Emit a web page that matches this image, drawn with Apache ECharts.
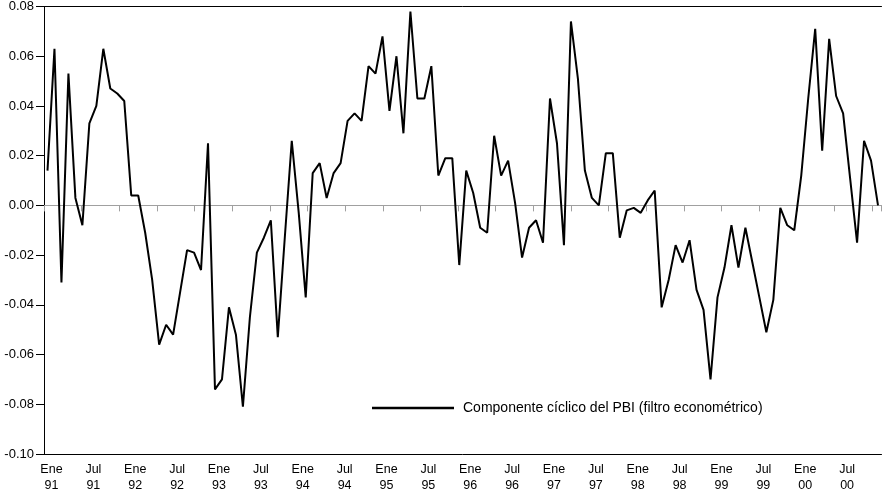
<!DOCTYPE html>
<html>
<head>
<meta charset="utf-8">
<script src="https://cdn.jsdelivr.net/npm/echarts@6/dist/echarts.min.js"></script>
<style>
  html, body { margin: 0; padding: 0; background: #fff; }
  #chart { width: 885px; height: 498px; }
</style>
</head>
<body>
<div id="chart"></div>
<script>
// Monthly cyclical component of GDP, Jan 1991 - Dec 2000
const years = [1991, 1992, 1993, 1994, 1995, 1996, 1997, 1998, 1999, 2000];
const monthNames = ['Ene', 'Feb', 'Mar', 'Abr', 'May', 'Jun', 'Jul', 'Ago', 'Sep', 'Oct', 'Nov', 'Dic'];
const labelledMonths = ['Ene', 'Jul'];

const ciclo = [
  0.014, 0.063, -0.031, 0.053, 0.003, -0.008, 0.033, 0.040, 0.063, 0.047, 0.045, 0.042,
  0.004, 0.004, -0.011, -0.030, -0.056, -0.048, -0.052, -0.035, -0.018, -0.019, -0.026, 0.025,
  -0.074, -0.070, -0.041, -0.052, -0.081, -0.045, -0.019, -0.013, -0.006, -0.053, -0.013, 0.026,
  -0.003, -0.037, 0.013, 0.017, 0.003, 0.013, 0.017, 0.034, 0.037, 0.034, 0.056, 0.053,
  0.068, 0.038, 0.060, 0.029, 0.078, 0.043, 0.043, 0.056, 0.012, 0.019, 0.019, -0.024,
  0.014, 0.005, -0.009, -0.011, 0.028, 0.012, 0.018, 0.001, -0.021, -0.009, -0.006, -0.015,
  0.043, 0.025, -0.016, 0.074, 0.051, 0.014, 0.003, 0.000, 0.021, 0.021, -0.013, -0.002,
  -0.001, -0.003, 0.002, 0.006, -0.041, -0.030, -0.016, -0.023, -0.014, -0.034, -0.042, -0.070,
  -0.037, -0.025, -0.008, -0.025, -0.009, -0.023, -0.037, -0.051, -0.038, -0.001, -0.008, -0.010,
  0.012, 0.043, 0.071, 0.022, 0.067, 0.044, 0.037, 0.011, -0.015, 0.026, 0.018, 0.000
];

const seriesName = 'Componente cíclico del PBI (filtro econométrico)';

// month categories such as "Ene 91"
const categories = [];
years.forEach(y => monthNames.forEach(m => categories.push(m + ' ' + String(y).slice(2))));

const font = 'Arial, "Liberation Sans", sans-serif';
const chart = echarts.init(document.getElementById('chart'), null, { renderer: 'canvas' });

chart.setOption({
  animation: false,
  backgroundColor: '#ffffff',
  grid: { left: 44, right: 0, top: 4, bottom: 44, containLabel: false },
  legend: {
    data: [seriesName],
    left: 372,
    top: 401,
    padding: 0,
    icon: 'rect',
    itemWidth: 82,
    itemHeight: 2.5,
    itemStyle: { color: '#000' },
    textStyle: { fontFamily: font, fontSize: 14, color: '#000', padding: [0, 0, 0, 4] },
    selectedMode: false
  },
  xAxis: [
    {
      // month axis with Ene / Jul labels along the bottom frame
      type: 'category',
      data: categories,
      boundaryGap: true,
      position: 'bottom',
      axisLine: { onZero: false, lineStyle: { color: '#000', width: 1 } },
      axisTick: { show: false },
      splitLine: { show: false },
      axisLabel: {
        interval: 0,
        margin: 8,
        fontFamily: font,
        fontSize: 12.5,
        lineHeight: 16,
        color: '#000',
        padding: [0, 0, 0, 8],
        formatter: function (v) {
          const parts = v.split(' ');
          return labelledMonths.indexOf(parts[0]) >= 0 ? parts[0] + '\n' + parts[1] : '';
        }
      }
    },
    {
      // gray zero line with its small tick marks
      type: 'value',
      min: 0,
      max: 22.25,
      interval: 1,
      position: 'bottom',
      axisLine: { onZero: true, lineStyle: { color: '#a0a0a0', width: 1 } },
      axisTick: { show: true, length: 6, lineStyle: { color: '#a0a0a0', width: 1 } },
      axisLabel: { show: false },
      splitLine: { show: false }
    },
    {
      // top frame line
      type: 'category',
      data: categories,
      position: 'top',
      axisLine: { onZero: false, lineStyle: { color: '#000', width: 1 } },
      axisTick: { show: false },
      axisLabel: { show: false },
      splitLine: { show: false }
    }
  ],
  yAxis: {
    type: 'value',
    min: -0.1,
    max: 0.08,
    interval: 0.02,
    axisLine: { show: true, lineStyle: { color: '#000', width: 1 } },
    axisTick: { show: true, length: 8, lineStyle: { color: '#000' } },
    splitLine: { show: false },
    axisLabel: {
      margin: 10,
      fontFamily: font,
      fontSize: 13,
      color: '#000',
      formatter: v => v.toFixed(2)
    }
  },
  series: [
    {
      name: seriesName,
      type: 'line',
      xAxisIndex: 0,
      data: ciclo,
      symbol: 'none',
      lineStyle: { color: '#000', width: 2 },
      itemStyle: { color: '#000' }
    }
  ]
});
</script>
</body>
</html>
